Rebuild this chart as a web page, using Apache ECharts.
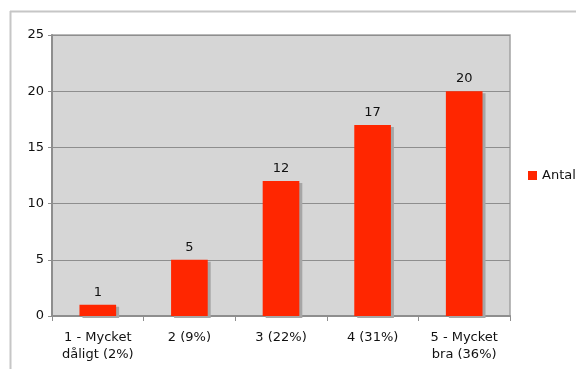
<!DOCTYPE html>
<html>
<head>
<meta charset="utf-8">
<script src="https://cdn.jsdelivr.net/npm/echarts@6/dist/echarts.min.js"></script>
<style>
  html, body { margin: 0; padding: 0; background: #fff; }
  #chart { width: 576px; height: 369px; }
</style>
</head>
<body>
<div id="chart"></div>
<script>
// Survey answers: number of respondents per rating
const categories = ['1 - Mycket\ndåligt (2%)', '2 (9%)', '3 (22%)', '4 (31%)', '5 - Mycket\nbra (36%)'];
const antal = [1, 5, 12, 17, 20];
const seriesName = 'Antal';
const yMax = 25;
const yStep = 5;

const font = 'DejaVu Sans, Verdana, sans-serif';
const chart = echarts.init(document.getElementById('chart'), null, { renderer: 'canvas' });

chart.setOption({
  animation: false,
  backgroundColor: '#ffffff',
  graphic: [
    { type: 'line', shape: { x1: 10.5, y1: 11, x2: 10.5, y2: 369 }, style: { stroke: '#c6c6c6', lineWidth: 2 }, z: -1 },
    { type: 'line', shape: { x1: 10, y1: 11.5, x2: 576, y2: 11.5 }, style: { stroke: '#c6c6c6', lineWidth: 2 }, z: -1 }
  ],
  grid: {
    left: 52, top: 35, right: 66, bottom: 53,
    show: true,
    backgroundColor: '#d6d6d6',
    borderColor: '#a3a3a3',
    borderWidth: 1.5
  },
  legend: {
    data: [seriesName],
    orient: 'vertical',
    left: 528,
    top: 169,
    padding: 0,
    itemWidth: 9,
    itemHeight: 9,
    itemGap: 4,
    icon: 'rect',
    textStyle: { fontFamily: font, fontSize: 13, color: '#111', padding: [0, 0, 0, 0] }
  },
  xAxis: {
    type: 'category',
    data: categories,
    axisLine: { lineStyle: { color: '#8e8e8e', width: 2 } },
    axisTick: { show: true, length: 5, lineStyle: { color: '#8e8e8e' } },
    axisLabel: {
      interval: 0,
      margin: 13,
      fontFamily: font,
      fontSize: 13,
      lineHeight: 17,
      color: '#111'
    }
  },
  yAxis: {
    type: 'value',
    min: 0,
    max: yMax,
    interval: yStep,
    axisLine: { show: true, lineStyle: { color: '#8e8e8e', width: 2 } },
    axisTick: { show: true, length: 4, lineStyle: { color: '#8e8e8e' } },
    axisLabel: { margin: 10, fontFamily: font, fontSize: 13, color: '#111', padding: [0, -2, 0, 0] },
    splitLine: { show: true, lineStyle: { color: '#8e8e8e', width: 1 } }
  },
  series: [{
    name: seriesName,
    type: 'bar',
    data: antal,
    barWidth: '40%',
    itemStyle: {
      color: '#ff2600',
      shadowColor: '#a6a6a6',
      shadowOffsetX: 3,
      shadowOffsetY: 2,
      shadowBlur: 0
    },
    label: {
      show: true,
      position: 'top',
      distance: 6,
      fontFamily: font,
      fontSize: 13,
      color: '#111'
    }
  }]
});
</script>
</body>
</html>
